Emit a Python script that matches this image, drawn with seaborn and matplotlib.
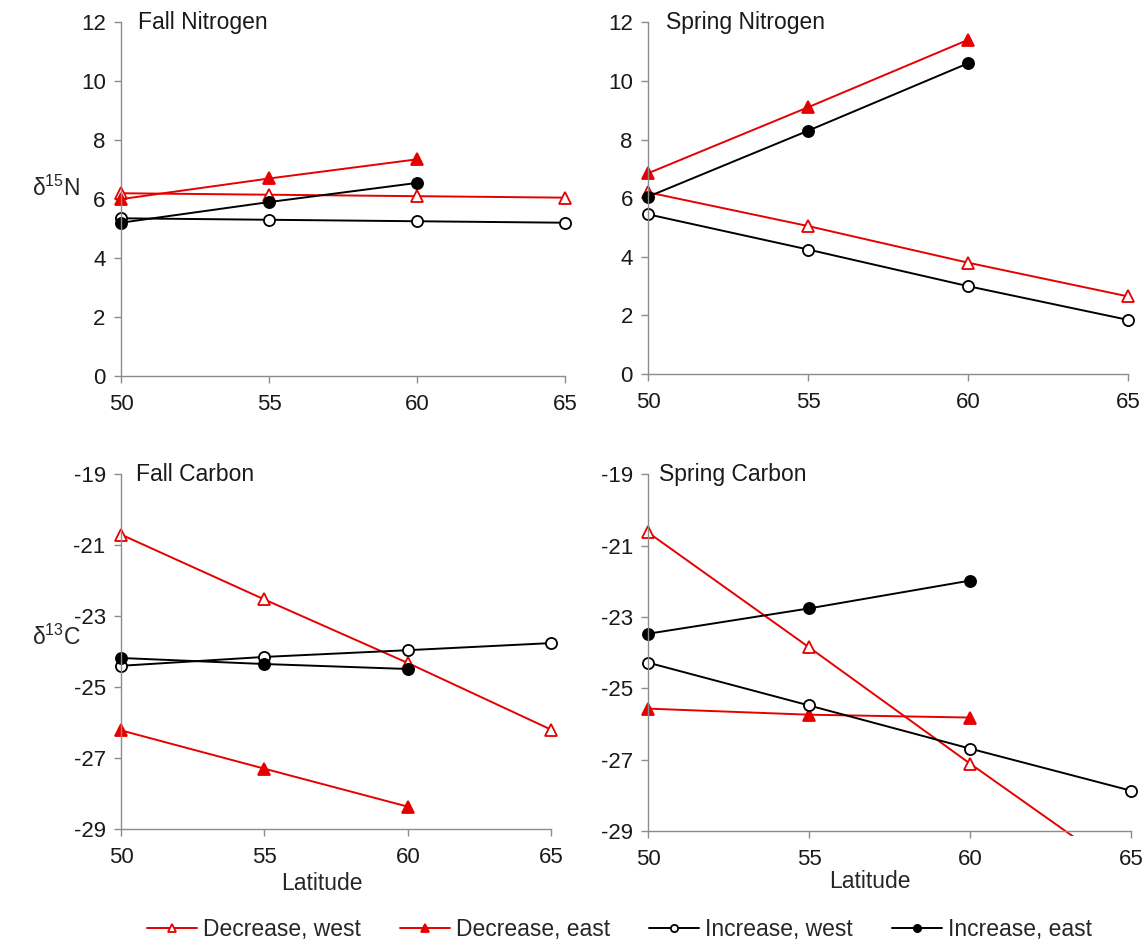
import numpy as np
import pandas as pd
import matplotlib
matplotlib.use("Agg")
import matplotlib.pyplot as plt
import matplotlib.patches as mpatches
import seaborn as sns

lat = [50, 55, 60, 65]
lat_east = [50, 55, 60]

# Fall nitrogen
fn_dec_west = [6.2, 6.15, 6.1, 6.05]
fn_dec_east = [6.0, 6.7, 7.35]
fn_inc_west = [5.35, 5.3, 5.25, 5.2]
fn_inc_east = [5.2, 5.9, 6.55]

# Spring nitrogen
sn_dec_west = [6.2, 5.05, 3.8, 2.65]
sn_dec_east = [6.85, 9.1, 11.4]
sn_inc_west = [5.45, 4.25, 3.0, 1.85]
sn_inc_east = [6.05, 8.3, 10.6]

# Fall carbon
fc_dec_west = [-20.7, -22.53, -24.32, -26.2]
fc_dec_east = [-26.22, -27.3, -28.37]
fc_inc_west = [-24.4, -24.15, -23.96, -23.76]
fc_inc_east = [-24.18, -24.35, -24.49]

# Spring carbon
sc_dec_west = [-20.63, -23.85, -27.11, -30.3]
sc_dec_east = [-25.57, -25.74, -25.82]
sc_inc_west = [-24.28, -25.48, -26.69, -27.87]
sc_inc_east = [-23.47, -22.76, -21.98]

n_ticks = [0, 2, 4, 6, 8, 10, 12]
c_ticks = [-29, -27, -25, -23, -21, -19]
series_names = ["Decrease, west", "Decrease, east", "Increase, west", "Increase, east"]

RED = "#e60000"
GRAY = "#8c8c8c"

sns.set_style("white")
plt.rcParams['font.family'] = ['Liberation Sans', 'DejaVu Sans']
plt.rcParams['mathtext.fontset'] = 'custom'
plt.rcParams['mathtext.rm'] = 'Liberation Sans'
plt.rcParams['mathtext.it'] = 'Liberation Sans'
plt.rcParams['axes.unicode_minus'] = False

styles = [
    dict(color=RED, marker="^", markerfacecolor="white", markeredgecolor=RED, markersize=9),
    dict(color=RED, marker="^", markerfacecolor=RED, markeredgecolor=RED, markersize=9),
    dict(color="black", marker="o", markerfacecolor="white", markeredgecolor="black", markersize=8),
    dict(color="black", marker="o", markerfacecolor="black", markeredgecolor="black", markersize=8),
]


def draw_panel(ax, title, series, ylim, yticks, title_x, clip_last=None):
    for i, (name, vals) in enumerate(zip(series_names, series)):
        xs = lat if len(vals) == 4 else lat_east
        d = pd.DataFrame({"Latitude": xs, "value": vals})
        sns.lineplot(data=d, x="Latitude", y="value", ax=ax, label=name,
                     linewidth=1.4, markeredgewidth=1.3, **styles[i])
        line = ax.lines[-1]
        if clip_last == i:
            # line runs off the bottom of the axis, cut it just below
            rect = mpatches.Rectangle((-0.05, -0.015), 1.1, 1.07, transform=ax.transAxes,
                                      fill=False, visible=False)
            ax.add_patch(rect)
            line.set_clip_path(rect)
        else:
            line.set_clip_on(False)
    if ax.get_legend() is not None:
        ax.get_legend().remove()
    ax.set_xlim(50, 65)
    ax.set_ylim(*ylim)
    ax.set_xticks(lat)
    ax.set_yticks(yticks)
    ax.set_xlabel("")
    ax.set_ylabel("")
    for s in ["top", "right"]:
        ax.spines[s].set_visible(False)
    for s in ["left", "bottom"]:
        ax.spines[s].set_color(GRAY)
        ax.spines[s].set_linewidth(1.0)
    ax.tick_params(axis="both", direction="out", length=5, width=1.0, color=GRAY,
                   labelsize=16, labelcolor="#1a1a1a", left=True, bottom=True, pad=6)
    ax.tick_params(axis="x", pad=8)
    ax.text(title_x, 1.0, title, transform=ax.transAxes, fontsize=16.5,
            ha="left", va="center", color="#1a1a1a")


fig = plt.figure(figsize=(11.47, 9.46), dpi=100)
ax1 = fig.add_axes([0.1055, 0.6025, 0.387, 0.374])
ax2 = fig.add_axes([0.565, 0.6045, 0.4185, 0.372])
ax3 = fig.add_axes([0.1055, 0.1237, 0.375, 0.375])
ax4 = fig.add_axes([0.565, 0.1216, 0.421, 0.377])

draw_panel(ax1, "Fall Nitrogen", [fn_dec_west, fn_dec_east, fn_inc_west, fn_inc_east],
           (0, 12), n_ticks, 0.038)
draw_panel(ax2, "Spring Nitrogen", [sn_dec_west, sn_dec_east, sn_inc_west, sn_inc_east],
           (0, 12), n_ticks, 0.0375)
draw_panel(ax3, "Fall Carbon", [fc_dec_west, fc_dec_east, fc_inc_west, fc_inc_east],
           (-29, -19), c_ticks, 0.035)
draw_panel(ax4, "Spring Carbon", [sc_dec_west, sc_dec_east, sc_inc_west, sc_inc_east],
           (-29, -19), c_ticks, 0.022, clip_last=0)

ax1.set_ylabel("δ$^{15}$N", rotation=0, fontsize=16.5, ha="center", va="center")
ax1.yaxis.set_label_coords(-0.146, 0.53)
ax3.set_ylabel("δ$^{13}$C", rotation=0, fontsize=16.5, ha="center", va="center")
ax3.yaxis.set_label_coords(-0.15, 0.54)

ax3.set_xlabel("Latitude", fontsize=16.5)
ax3.xaxis.set_label_coords(0.467, -0.122)
ax4.set_xlabel("Latitude", fontsize=16.5)
ax4.xaxis.set_label_coords(0.46, -0.11)

handles = ax1.lines[:4]
fig.legend(handles, series_names, loc="center", bbox_to_anchor=(0.54, 0.017), ncol=4,
           frameon=False, fontsize=16.5, handlelength=2.2, handletextpad=0.25,
           columnspacing=1.7, markerscale=0.65)

fig.savefig("out.png", dpi=100)
